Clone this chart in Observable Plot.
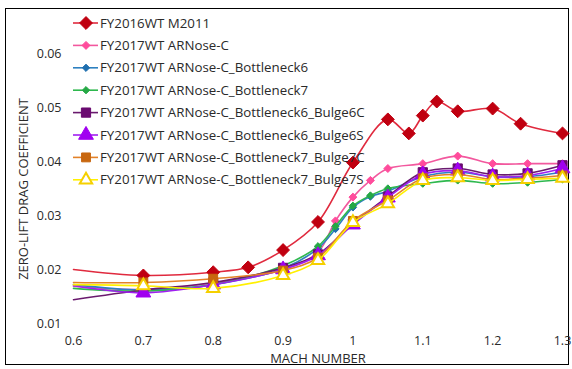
<!DOCTYPE html>
<html><head><meta charset="utf-8">
<script src="https://cdn.jsdelivr.net/npm/d3@7"></script>
<script src="https://cdn.jsdelivr.net/npm/@observablehq/plot@0.6"></script>
<style>
body{margin:0;background:#fff;}
#wrap{position:relative;width:572px;height:369px;font-family:"Open Sans",sans-serif;color:#333;overflow:hidden;}
#border{position:absolute;left:5px;top:8px;width:564px;height:357px;border:1px solid #000;box-sizing:border-box;}
#wrap svg{position:absolute;left:0;top:0;}
.ttl{position:absolute;font-size:13px;white-space:nowrap;color:#2a2a2a;}
#xt{left:318px;top:358px;transform:translate(-50%,-50%);}
#yt{left:23px;top:189px;transform:translate(-50%,-50%) rotate(-90deg);}
</style></head><body>
<div id="wrap"><div id="border"></div><div id="chart"></div><svg id="leg" width="572" height="369"></svg>
<div class="ttl" id="xt">MACH NUMBER</div><div class="ttl" id="yt">ZERO-LIFT DRAG COEFFICIENT</div></div>
<script>
const seriesNames = [
  "FY2016WT M2011",
  "FY2017WT ARNose-C",
  "FY2017WT ARNose-C_Bottleneck6",
  "FY2017WT ARNose-C_Bottleneck7",
  "FY2017WT ARNose-C_Bottleneck6_Bulge6C",
  "FY2017WT ARNose-C_Bottleneck6_Bulge6S",
  "FY2017WT ARNose-C_Bottleneck7_Bulge7C",
  "FY2017WT ARNose-C_Bottleneck7_Bulge7S"
];
const machM2011 = [0.6, 0.7, 0.8, 0.85, 0.9, 0.95, 1.0, 1.05, 1.08, 1.1, 1.12, 1.15, 1.2, 1.24, 1.3];
const cdM2011   = [0.0200, 0.0189, 0.0195, 0.0204, 0.0236, 0.0288, 0.0398, 0.0478, 0.0452, 0.0485, 0.0511, 0.0493, 0.0498, 0.0470, 0.0452];

const machNose = [0.6, 0.7, 0.8, 0.9, 0.95, 0.975, 1.0, 1.025, 1.05, 1.1, 1.15, 1.2, 1.25, 1.3];
const cdNose        = [0.0169, 0.0163, 0.0175, 0.0200, 0.0232, 0.0290, 0.0334, 0.0365, 0.0387, 0.0396, 0.0410, 0.0396, 0.0396, 0.0396];
const cdBottleneck6 = [0.0172, 0.0162, 0.0172, 0.0202, 0.0239, 0.0275, 0.0315, 0.0335, 0.0345, 0.0372, 0.0380, 0.0372, 0.0372, 0.0380];
const cdBottleneck7 = [0.0165, 0.0160, 0.0172, 0.0207, 0.0243, 0.0280, 0.0318, 0.0337, 0.0350, 0.0359, 0.0365, 0.0359, 0.0361, 0.0367];

const machBulge = [0.6, 0.7, 0.8, 0.9, 0.95, 1.0, 1.05, 1.1, 1.15, 1.2, 1.25, 1.3];
const cdBulge6C = [0.0144, 0.0162, 0.0176, 0.0203, 0.0228, 0.0285, 0.0335, 0.0380, 0.0387, 0.0376, 0.0378, 0.0393];
const cdBulge6S = [0.0170, 0.0157, 0.0172, 0.0200, 0.0226, 0.0283, 0.0333, 0.0376, 0.0383, 0.0372, 0.0374, 0.0387];
const cdBulge7C = [0.0176, 0.0176, 0.0183, 0.0198, 0.0222, 0.0290, 0.0328, 0.0369, 0.0376, 0.0367, 0.0369, 0.0374];
const cdBulge7S = [0.0172, 0.0170, 0.0165, 0.0189, 0.0217, 0.0287, 0.0322, 0.0365, 0.0370, 0.0365, 0.0367, 0.0369];

const xTicks = [0.6, 0.7, 0.8, 0.9, 1.0, 1.1, 1.2, 1.3];
const xTickLabels = ["0.6", "0.7", "0.8", "0.9", "1", "1.1", "1.2", "1.3"];
const yTicks = [0.01, 0.02, 0.03, 0.04, 0.05, 0.06];
const yTickLabels = ["0.01", "0.02", "0.03", "0.04", "0.05", "0.06"];

const seriesData = [
  [machM2011, cdM2011], [machNose, cdNose], [machNose, cdBottleneck6], [machNose, cdBottleneck7],
  [machBulge, cdBulge6C], [machBulge, cdBulge6S], [machBulge, cdBulge7C], [machBulge, cdBulge7S]
];
const styles = [
  {line:"#E02A3E", symbol:"diamond2", r:5.8, fill:"#C00010", stroke:"#C00010", sw:1},
  {line:"#F2589E", symbol:"diamond2", r:3.6, fill:"#FF4C9C", stroke:"#FF4C9C", sw:1},
  {line:"#2E80C0", symbol:"diamond2", r:3.3, fill:"#1F6FAF", stroke:"#1F6FAF", sw:1},
  {line:"#2EB84E", symbol:"diamond2", r:3.3, fill:"#25A845", stroke:"#25A845", sw:1},
  {line:"#6A1A6E", symbol:"square", r:5.2, fill:"#6A0A70", stroke:"#6A0A70", sw:1},
  {line:"#A020F0", symbol:"triangle", r:5.5, fill:"#A000F0", stroke:"#A000F0", sw:1},
  {line:"#E38228", symbol:"square", r:5, fill:"#C8670F", stroke:"#C8670F", sw:1},
  {line:"#FFF000", symbol:"triangle", r:4.6, fill:"#FFFFFF", stroke:"#F5D000", sw:2}
];

const rows = [];
seriesData.forEach(([m, c], i) => m.forEach((mach, j) => rows.push({series: seriesNames[i], mach, cd: c[j]})));

const marks = [];
seriesNames.forEach((name, i) => {
  const s = styles[i];
  const d = rows.filter(r => r.series === name);
  marks.push(Plot.line(d, {x: "mach", y: "cd", stroke: s.line, strokeWidth: 1.6, curve: "catmull-rom"}));
  marks.push(Plot.dot(d.filter(r => r.mach > 0.6), {x: "mach", y: "cd", symbol: () => s.symbol, r: s.r, fill: s.fill, stroke: s.stroke, strokeWidth: s.sw}));
});

const chart = Plot.plot({
  width: 572, height: 369,
  marginLeft: 73, marginRight: 10, marginTop: 26, marginBottom: 46,
  style: {fontFamily: "'Open Sans', sans-serif", fontSize: "12.5px", color: "#2a2a2a", background: "transparent"},
  x: {domain: [0.6, 1.3], label: null},
  y: {domain: [0.01, 0.065], label: null},
  symbol: {type: "identity"},
  marks: [
    Plot.axisX(xTicks, {tickSize: 0, tickPadding: 13, tickFormat: (d, i) => xTickLabels[i], fontSize: 12.5, label: null}),
    Plot.axisY(yTicks, {tickSize: 0, tickPadding: 12, tickFormat: (d, i) => yTickLabels[i], fontSize: 12.5, label: null}),
    ...marks
  ]
});
document.getElementById("chart").appendChild(chart);

// legend overlay
const leg = d3.select("#leg");
const symMap = {diamond2: d3.symbolDiamond2, square: d3.symbolSquare, triangle: d3.symbolTriangle};
seriesNames.forEach((name, i) => {
  const s = styles[i];
  const y = 23 + i * 22.4;
  const g = leg.append("g").attr("transform", `translate(0,${y})`);
  g.append("line").attr("x1", 73).attr("x2", 98).attr("y1", 0).attr("y2", 0).attr("stroke", s.line).attr("stroke-width", 1.6);
  g.append("path").attr("transform", "translate(86,0)")
    .attr("d", d3.symbol(symMap[s.symbol], Math.PI * s.r * s.r)())
    .attr("fill", s.fill).attr("stroke", s.stroke).attr("stroke-width", s.sw);
  g.append("text").attr("x", 100).attr("y", 0).attr("dy", "0.35em")
    .attr("font-family", "'Open Sans', sans-serif").attr("font-size", 13.3).attr("fill", "#2a2a2a").text(name);
});
</script>
</body></html>
